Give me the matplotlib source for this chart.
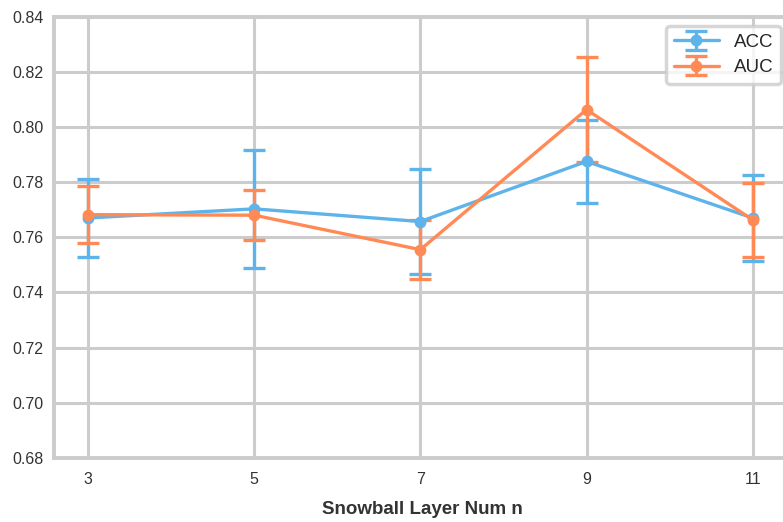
import matplotlib
matplotlib.use("Agg")
import matplotlib.pyplot as plt
import seaborn as sns

# Snowball layer numbers and scores (mean, std)
layers = [3, 5, 7, 9, 11]
acc_mean = [0.767, 0.7703, 0.7657, 0.7875, 0.767]
acc_std = [0.014, 0.0213, 0.019, 0.0152, 0.0155]
auc_mean = [0.7682, 0.768, 0.7555, 0.8063, 0.7663]
auc_std = [0.0103, 0.009, 0.0107, 0.019, 0.0133]
y_ticks = [0.68, 0.70, 0.72, 0.74, 0.76, 0.78, 0.80, 0.82, 0.84]

sns.set_style("whitegrid")
plt.rcParams['font.family'] = ['Liberation Sans', 'DejaVu Sans']

fig = plt.figure(figsize=(7.83, 5.22), dpi=100)
ax = fig.add_axes([0.069, 0.123, 0.94, 0.845])

blue = '#5eb4ea'
orange = '#ff8a55'

ax.errorbar(layers, acc_mean, yerr=acc_std, color=blue, lw=2.4, marker='o',
            markersize=7.5, capsize=8, capthick=2.4, elinewidth=2.4, label='ACC')
ax.errorbar(layers, auc_mean, yerr=auc_std, color=orange, lw=2.4, marker='o',
            markersize=7.5, capsize=8, capthick=2.4, elinewidth=2.4, label='AUC')

ax.set_xlim(2.59, 11.45)
ax.set_ylim(0.68, 0.84)
ax.set_xticks(layers)
ax.set_yticks(y_ticks)
ax.set_yticklabels([f'{v:.2f}' for v in y_ticks])
ax.tick_params(axis='both', labelsize=11.5, colors='#333333')
ax.tick_params(axis='x', pad=7)
ax.tick_params(axis='y', pad=4)
ax.grid(True, color='#cccccc', lw=2.2)
for s in ax.spines.values():
    s.set_color('#cccccc')
    s.set_linewidth(2.8)

ax.set_xlabel('Snowball Layer Num n', fontsize=13.5, fontweight='bold',
              color='#333333', labelpad=10)

leg = ax.legend(loc='upper right', fontsize=13.5, frameon=True, fancybox=True,
                borderaxespad=0.5, handlelength=2.4, labelspacing=0.45,
                borderpad=0.4, handletextpad=0.8)
leg.get_frame().set_edgecolor('#cccccc')
leg.get_frame().set_linewidth(2.5)

fig.savefig('out.png', dpi=100)
